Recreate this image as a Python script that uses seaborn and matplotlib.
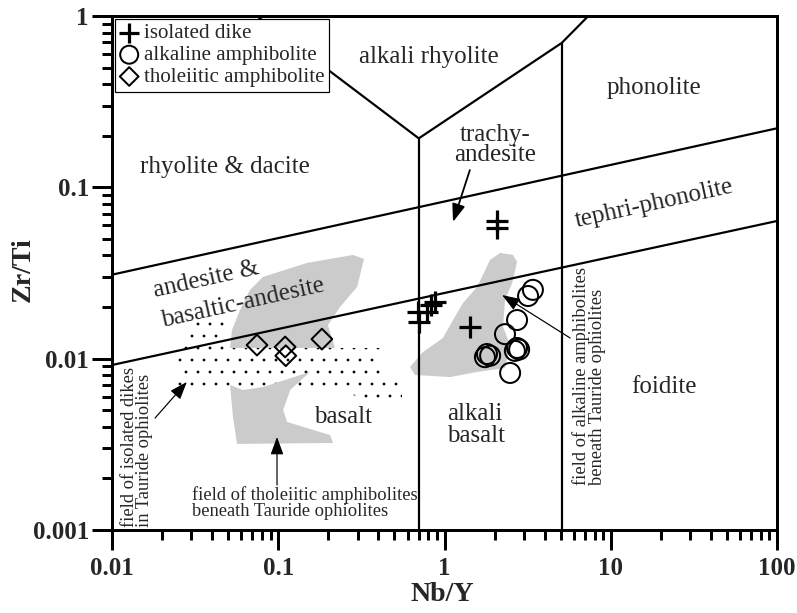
import matplotlib
matplotlib.use("Agg")
import matplotlib.pyplot as plt
import matplotlib.ticker as ticker
from matplotlib.patches import Polygon
import seaborn as sns

# ---- data (Nb/Y, Zr/Ti) ----
dike_x = [2.07, 2.07, 0.703, 0.69, 0.785, 0.829, 0.877, 1.42]
dike_y = [0.0636, 0.0579, 0.0164, 0.0187, 0.0187, 0.0206, 0.0214, 0.0153]

alk_x = [3.40, 3.18, 2.73, 2.31, 2.73, 2.65, 2.81, 1.80, 1.75, 1.88, 2.48]
alk_y = [0.0252, 0.0232, 0.0168, 0.0139, 0.01154, 0.0111, 0.0113, 0.01064, 0.0102, 0.0104, 0.00825]

thol_x = [0.0745, 0.110, 0.111, 0.183]
thol_y = [0.0120, 0.0117, 0.0104, 0.0130]

# field boundaries of the diagram
upper_line_x = [0.01, 100]
upper_line_y = [0.0309, 0.221]
lower_line_x = [0.01, 100]
lower_line_y = [0.00918, 0.0636]
vert1_x = [0.7, 0.7]
vert1_y = [0.001, 0.193]
rhy_left_x = [0.0742, 0.7]
rhy_left_y = [1.0, 0.193]
rhy_right_x = [0.7, 5.07, 7.33]
rhy_right_y = [0.193, 0.696, 1.0]
vert2_x = [5.07, 5.07]
vert2_y = [0.001, 0.696]

# grey / dotted fields
thol_field_top = [(0.282, 0.0403), (0.328, 0.0382), (0.298, 0.0262), (0.235, 0.0200),
                  (0.199, 0.0157), (0.2195, 0.01154), (0.0513, 0.01154), (0.0527, 0.0147),
                  (0.0589, 0.0192), (0.0676, 0.0252), (0.0810, 0.0300), (0.149, 0.0362)]
thol_field_low = [(0.0513, 0.00702), (0.0613, 0.00656), (0.0810, 0.00683), (0.155, 0.00836),
                  (0.118, 0.00656), (0.107, 0.00502), (0.113, 0.00427), (0.205, 0.00358),
                  (0.2135, 0.00322), (0.0565, 0.00318), (0.0534, 0.00457)]
dike_field = [(0.0294, 0.01637), (0.0479, 0.01637), (0.0479, 0.01154), (0.409, 0.01154),
              (0.409, 0.00750), (0.555, 0.00750), (0.555, 0.00544), (0.409, 0.00544),
              (0.270, 0.00622), (0.0294, 0.00622), (0.0249, 0.00702), (0.0249, 0.01154),
              (0.0294, 0.0120)]
alk_field = [(2.16, 0.0414), (2.58, 0.0403), (2.73, 0.0367), (2.55, 0.0276), (2.31, 0.0220),
             (2.25, 0.0153), (2.48, 0.0120), (2.31, 0.00882), (1.57, 0.00836), (1.08, 0.00781),
             (0.665, 0.00803), (0.620, 0.00894), (0.742, 0.01093), (0.979, 0.0132),
             (1.125, 0.0168), (1.29, 0.0211), (1.57, 0.0262), (1.88, 0.0377)]

sns.set_theme(style="ticks")
plt.rcParams["font.family"] = ["Liberation Serif", "DejaVu Serif"]
plt.rcParams["hatch.linewidth"] = 0.3

fig, ax = plt.subplots(figsize=(797 / 72, 613 / 72), dpi=72)
fig.subplots_adjust(left=0.1405, right=0.975, bottom=0.1354, top=0.974)
ax.set_xscale("log")
ax.set_yscale("log")
ax.set_xlim(0.01, 100)
ax.set_ylim(0.001, 1)

grey = "#cbcbcb"
ax.add_patch(Polygon(thol_field_top, closed=True, facecolor=grey, edgecolor="none", zorder=1))
ax.add_patch(Polygon(dike_field, closed=True, facecolor="white", edgecolor="black",
                     linewidth=0, hatch=".", zorder=1.2))
ax.add_patch(Polygon(thol_field_low, closed=True, facecolor=grey, edgecolor="none", zorder=1.4))
ax.add_patch(Polygon(alk_field, closed=True, facecolor=grey, edgecolor="none", zorder=1))

for lx, ly in [(upper_line_x, upper_line_y), (lower_line_x, lower_line_y),
               (vert1_x, vert1_y), (rhy_left_x, rhy_left_y),
               (rhy_right_x, rhy_right_y), (vert2_x, vert2_y)]:
    ax.plot(lx, ly, color="black", linewidth=2.2, zorder=2, solid_capstyle="butt")

# samples
sns.scatterplot(x=dike_x, y=dike_y, marker="+", s=480, color="black", linewidth=3.2,
                label="isolated dike", ax=ax, zorder=4)
sns.scatterplot(x=alk_x, y=alk_y, marker="o", s=400, facecolor="none", edgecolor="black",
                linewidth=2, label="alkaline amphibolite", ax=ax, zorder=4)
sns.scatterplot(x=thol_x, y=thol_y, marker="D", s=215, facecolor="none", edgecolor="black",
                linewidth=2, label="tholeiitic amphibolite", ax=ax, zorder=4)

# field names
fs = 25
ax.text(0.807, 0.576, "alkali rhyolite", fontsize=fs, ha="center", va="center")
ax.text(18.2, 0.380, "phonolite", fontsize=fs, ha="center", va="center")
ax.text(0.0479, 0.1315, "rhyolite & dacite", fontsize=fs, ha="center", va="center")
ax.text(2.01, 0.1767, "trachy-\nandesite", fontsize=fs, ha="center", va="center",
        linespacing=0.9)
ax.text(6.27, 0.0587, "tephri-phonolite", fontsize=fs, ha="left", va="baseline",
        rotation=12.5, rotation_mode="anchor")
ax.text(0.01815, 0.0229, "andesite &", fontsize=fs, ha="left", va="baseline",
        rotation=12.5, rotation_mode="anchor")
ax.text(0.0203, 0.0153, "basaltic-andesite", fontsize=fs, ha="left", va="baseline",
        rotation=12.5, rotation_mode="anchor")
ax.text(0.245, 0.00457, "basalt", fontsize=fs, ha="center", va="center")
ax.text(1.035, 0.0041, "alkali\nbasalt", fontsize=fs, ha="left", va="center",
        linespacing=1.0)
ax.text(20.9, 0.00683, "foidite", fontsize=fs, ha="center", va="center")

# annotations
sfs = 18.5
ax.text(0.0303, 0.00144, "field of tholeiitic amphibolites\nbeneath Tauride ophiolites",
        fontsize=sfs, ha="left", va="center", linespacing=0.9)
ax.text(0.01414, 0.00104, "field of isolated dikes\nin Tauride ophiolites",
        fontsize=sfs, ha="center", va="bottom", rotation=90, multialignment="left",
        linespacing=0.9)
ax.text(7.40, 0.00183, "field of alkaline amphibolites\nbeneath Tauride ophiolites",
        fontsize=sfs, ha="center", va="bottom", rotation=90, multialignment="left",
        linespacing=0.9)

arrow = dict(arrowstyle="-|>,head_length=0.6,head_width=0.22", color="black",
             lw=1.2, shrinkA=0, shrinkB=0, mutation_scale=25)
ax.annotate("", xy=(0.0983, 0.00349), xytext=(0.0983, 0.00183), arrowprops=arrow)
ax.annotate("", xy=(0.0282, 0.00731), xytext=(0.01815, 0.00450), arrowprops=arrow)
ax.annotate("", xy=(2.22, 0.0235), xytext=(5.69, 0.0132), arrowprops=arrow)
ax.annotate("", xy=(1.125, 0.0628), xytext=(1.42, 0.126),
            arrowprops=dict(arrow, lw=1.8))

# axes styling
for side in ["left", "right", "top", "bottom"]:
    ax.spines[side].set_visible(True)
    ax.spines[side].set_linewidth(3)
    ax.spines[side].set_color("black")
ax.tick_params(which="major", direction="out", length=20, width=3, color="black",
               labelsize=25, pad=7, top=False, right=False)
ax.tick_params(which="minor", direction="out", length=10, width=3, color="black",
               top=False, right=False)
ax.tick_params(axis="y", which="major", pad=3)
ax.xaxis.set_major_formatter(ticker.FormatStrFormatter("%g"))
ax.yaxis.set_major_formatter(ticker.FormatStrFormatter("%g"))
ax.xaxis.set_minor_formatter(ticker.NullFormatter())
ax.yaxis.set_minor_formatter(ticker.NullFormatter())
for lab in ax.get_xticklabels() + ax.get_yticklabels():
    lab.set_fontweight("bold")

ax.set_xlabel("Nb/Y", fontsize=28, fontweight="bold")
ax.set_ylabel("Zr/Ti", fontsize=28, fontweight="bold")
ax.xaxis.set_label_coords(0.496, -0.101)
ax.yaxis.set_label_coords(-0.115, 0.506)
ax.grid(False)

leg = ax.legend(loc="upper left", fontsize=21, frameon=True, fancybox=False,
                framealpha=1, edgecolor="black", borderaxespad=0.15, borderpad=0.22,
                labelspacing=0.1, handlelength=0.9, handletextpad=0.25,
                markerscale=0.9)
leg.get_frame().set_linewidth(1.2)
leg.set_zorder(10)

fig.savefig("out.png", dpi=72)
